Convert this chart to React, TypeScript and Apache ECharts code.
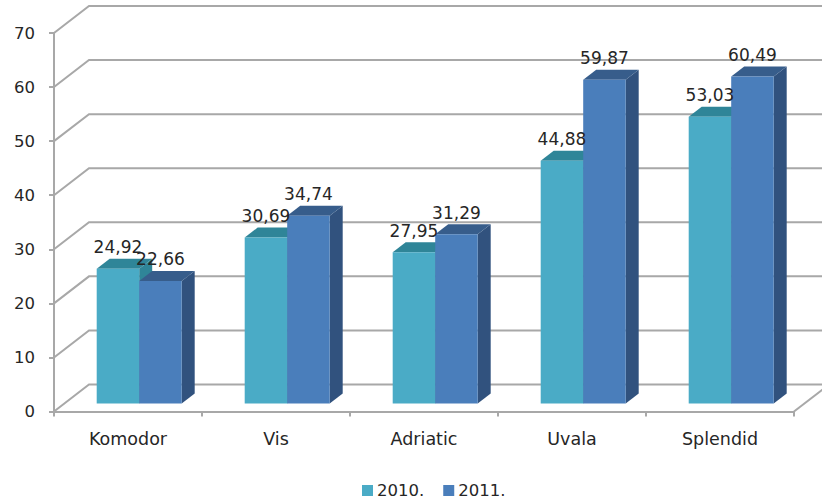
import React, { useEffect, useRef } from "react";
import * as echarts from "echarts";

const categories = ["Komodor", "Vis", "Adriatic", "Uvala", "Splendid"];
const values2010 = [24.92, 30.69, 27.95, 44.88, 53.03];
const values2011 = [22.66, 34.74, 31.29, 59.87, 60.49];
const labels2010 = ["24,92", "30,69", "27,95", "44,88", "53,03"];
const labels2011 = ["22,66", "34,74", "31,29", "59,87", "60,49"];
const tickValues = [0, 10, 20, 30, 40, 50, 60, 70];

const WALL_DX = 35;
const WALL_DY = -27;
const BAR_DX = 13;
const BAR_DY = -10;
const FLOOR_DX = 11.2;
const FLOOR_DY = -8;
const BAR_W = 42.5;
const GRID_COLOR = "#a8a8a8";
const FONT = "'DejaVu Sans', sans-serif";
const TEXT = "#262626";

function barSeries(
  name: string,
  values: number[],
  labels: string[],
  side: -1 | 1,
  front: string,
  top: string,
  right: string,
) {
  return {
    name,
    type: "custom",
    itemStyle: { color: front },
    data: values.map((v, i) => [i, v]),
    encode: { x: 0, y: 1 },
    renderItem: (params: any, api: any) => {
      const idx = api.value(0);
      const val = api.value(1);
      const [cx, yTop0] = api.coord([idx, val]);
      const [, yBase0] = api.coord([idx, 0]);
      const yTop = yTop0 + FLOOR_DY;
      const yBase = yBase0 + FLOOR_DY;
      const x0 = cx + FLOOR_DX + (side < 0 ? -BAR_W : 0);
      const x1 = x0 + BAR_W;
      return {
        type: "group",
        children: [
          {
            type: "polygon",
            shape: { points: [[x1, yTop], [x1 + BAR_DX, yTop + BAR_DY], [x1 + BAR_DX, yBase + BAR_DY], [x1, yBase]] },
            style: { fill: right },
          },
          {
            type: "polygon",
            shape: { points: [[x0, yTop], [x0 + BAR_DX, yTop + BAR_DY], [x1 + BAR_DX, yTop + BAR_DY], [x1, yTop]] },
            style: { fill: top },
          },
          { type: "rect", shape: { x: x0, y: yTop, width: BAR_W, height: yBase - yTop }, style: { fill: front } },
          {
            type: "text",
            z2: 100,
            style: {
              text: labels[params.dataIndex],
              x: (x0 + x1) / 2,
              y: yTop - 21.5,
              align: "center",
              verticalAlign: "middle",
              fill: TEXT,
              font: `17px ${FONT}`,
            },
          },
        ],
      };
    },
  };
}

export default function App() {
  const ref = useRef<HTMLDivElement>(null);

  useEffect(() => {
    const chart = echarts.init(ref.current!, undefined, { renderer: "svg" });
    chart.setOption({
      animation: false,
      backgroundColor: "#ffffff",
      grid: { left: 54, right: 28, top: 33, bottom: 91.5 },
      legend: {
        left: 357,
        top: 482,
        padding: [0, 0, 0, 5],
        icon: "rect",
        itemWidth: 11,
        itemHeight: 11,
        itemGap: 19,
        data: ["2010.", "2011."],
        textStyle: { color: TEXT, fontFamily: FONT, fontSize: 16.5, padding: [0, 0, 0, -1] },
      },
      xAxis: {
        type: "category",
        data: categories,
        axisLine: { lineStyle: { color: GRID_COLOR, width: 2 } },
        axisTick: { show: true, length: 5, lineStyle: { color: GRID_COLOR, width: 2 } },
        axisLabel: { color: TEXT, fontFamily: FONT, fontSize: 17.5, margin: 18 },
        splitLine: { show: false },
      },
      yAxis: {
        type: "value",
        min: 0,
        max: 70,
        interval: 10,
        axisLine: { show: true, lineStyle: { color: GRID_COLOR, width: 2 } },
        axisTick: { show: true, length: 5, lineStyle: { color: GRID_COLOR, width: 2 } },
        axisLabel: { color: TEXT, fontFamily: FONT, fontSize: 16.5, margin: 19 },
        splitLine: { show: false },
      },
      series: [
        {
          type: "custom",
          silent: true,
          data: tickValues.map((v) => [0, v]),
          encode: { x: 0, y: 1 },
          renderItem: (params: any, api: any) => {
            const [, y] = api.coord([0, api.value(1)]);
            const sys = params.coordSys;
            const x0 = sys.x;
            const x1 = sys.x + sys.width;
            const children: any[] = [
              {
                type: "polyline",
                shape: { points: [[x0, y], [x0 + WALL_DX, y + WALL_DY], [x1 + WALL_DX, y + WALL_DY]] },
                style: { stroke: GRID_COLOR, lineWidth: 2, fill: "none" },
              },
            ];
            if (api.value(1) === 0) {
              children.push({
                type: "line",
                shape: { x1, y1: y, x2: x1 + WALL_DX, y2: y + WALL_DY },
                style: { stroke: GRID_COLOR, lineWidth: 2 },
              });
            }
            return { type: "group", children };
          },
        },
        barSeries("2010.", values2010, labels2010, -1, "#4aabc6", "#2f8598", "#2f8598"),
        barSeries("2011.", values2011, labels2011, 1, "#4a7ebb", "#375d8b", "#31527e"),
      ],
    });
    return () => chart.dispose();
  }, []);

  return (
    <div
      ref={ref}
      style={{ position: "fixed", left: 0, top: 0, width: 822, height: 503 }}
    />
  );
}
